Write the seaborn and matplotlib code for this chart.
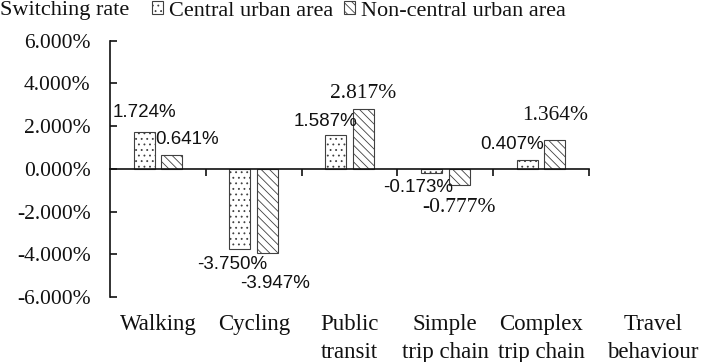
import numpy as np
import pandas as pd
import seaborn as sns
import matplotlib.pyplot as plt
from matplotlib.ticker import FuncFormatter

# values (percent)
behaviours = ['Walking', 'Cycling', 'Public\ntransit', 'Simple\ntrip chain', 'Complex\ntrip chain']
areas = ['Central urban area', 'Non-central urban area']
central = [1.724, -3.750, 1.587, -0.173, 0.407]
non_central = [0.641, -3.947, 2.817, -0.777, 1.364]
y_ticks = [-6, -4, -2, 0, 2, 4, 6]

# label placement (pixel offsets from bar end) and font per label
central_offsets = [(0, 20), (-8, -16), (-10, 13), (-13, -15), (-15, 16)]
non_central_offsets = [(15, 16), (8, -30), (0, 15), (0, -22), (0, 24)]
central_fonts = ['Liberation Sans'] * 5
non_central_fonts = ['Liberation Sans', 'Liberation Sans', 'Liberation Serif',
                     'Liberation Serif', 'Liberation Serif']

df = pd.DataFrame({
    'behaviour': behaviours * 2,
    'area': [areas[0]] * 5 + [areas[1]] * 5,
    'rate': central + non_central,
})

sns.set_style('ticks')
plt.rcParams['font.family'] = ['Liberation Serif', 'DejaVu Serif']
plt.rcParams['hatch.linewidth'] = 0.6

fig = plt.figure(figsize=(7.07, 3.62), dpi=100)
ax = fig.add_axes([110 / 707, 1 - 297 / 362, 479 / 707, 256.3 / 362])

sns.barplot(data=df, x='behaviour', y='rate', hue='area', order=behaviours,
            hue_order=areas, palette=['white', 'white'], saturation=1,
            width=0.573, gap=0.235, errorbar=None, edgecolor='#404040',
            linewidth=0.8, legend=False, ax=ax)

hatches = ['...', '\\\\\\\\']
for cont, h in zip(ax.containers, hatches):
    for bar in cont:
        bar.set_hatch(h)

label_sets = [(central_offsets, central_fonts), (non_central_offsets, non_central_fonts)]
for cont, (offs, fonts) in zip(ax.containers, label_sets):
    for bar, (dx, dy), fam in zip(cont, offs, fonts):
        v = bar.get_height()
        size = 13.5 if fam == 'Liberation Sans' else 15.5
        ax.annotate(f'{v:.3f}%', (bar.get_x() + bar.get_width() / 2, v),
                    xytext=(dx, dy), textcoords='offset pixels',
                    ha='center', va='center', fontsize=size, family=fam,
                    color='#111111', annotation_clip=False)

ax.set_xlim(-0.5, len(behaviours) - 0.5)
ax.set_ylim(-6, 6)
ax.set_yticks(y_ticks)
ax.yaxis.set_major_formatter(FuncFormatter(lambda v, p: f'{v:.3f}%'))
ax.tick_params(axis='y', direction='in', length=5, width=1.2, pad=14,
               labelsize=15.5, colors='#111111')
ax.set_xticks(np.arange(len(behaviours)) + 0.5, labels=[''] * len(behaviours))
ax.tick_params(axis='x', direction='out', length=5, width=1.2, colors='#111111')
ax.set_xlabel('')
ax.set_ylabel('')

sns.despine(ax=ax)
ax.spines['bottom'].set_position(('data', 0))
for s in ['left', 'bottom']:
    ax.spines[s].set_linewidth(1.2)
    ax.spines[s].set_color('#111111')

xt = ax.get_xaxis_transform()
for i, name in enumerate(behaviours):
    ax.text(i, -0.068, name, transform=xt, ha='center', va='top',
            fontsize=16.5, linespacing=1.38, color='#111111')
ax.text(5.17, -0.068, 'Travel\nbehaviour', transform=xt, ha='center', va='top',
        fontsize=16.5, linespacing=1.38, color='#111111', clip_on=False)

fig.text(0.0, 1 - 11 / 362, 'Switching rate', ha='left', va='center',
         fontsize=16, color='#111111')
fig.legend(handles=ax.containers, labels=areas, loc='center left',
           bbox_to_anchor=(152 / 707, 1 - 11 / 362), ncol=2, frameon=False,
           fontsize=16, handlelength=0.5, handleheight=0.5,
           handletextpad=0.25, columnspacing=0.5, borderpad=0,
           borderaxespad=0, labelcolor='#111111')

fig.savefig('out.png', dpi=100)
